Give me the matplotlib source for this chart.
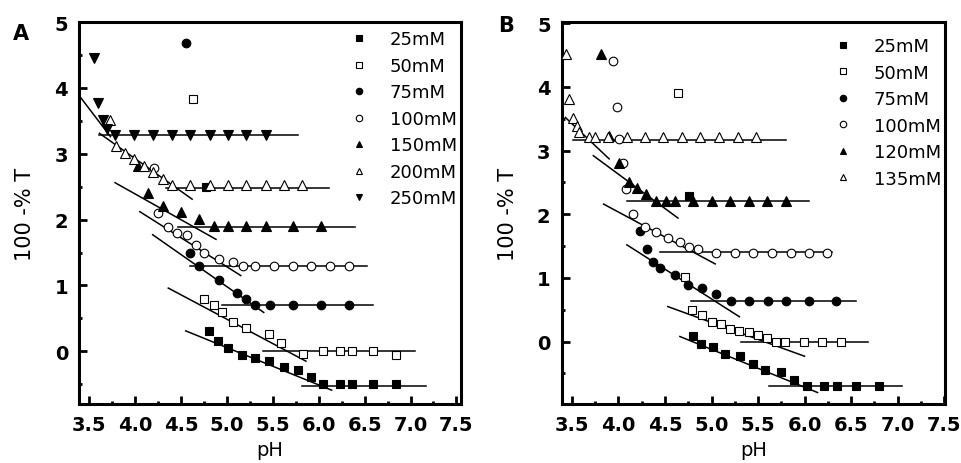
import matplotlib
matplotlib.use("Agg")
import matplotlib.pyplot as plt
from matplotlib.ticker import MultipleLocator

# ---- panel A data ----
a_labels = ["25mM", "50mM", "75mM", "100mM", "150mM", "200mM", "250mM"]

a25_x = [4.77, 4.80, 4.90, 5.01, 5.16, 5.31, 5.46, 5.62, 5.77, 5.91, 6.05, 6.23, 6.36, 6.59, 6.84]
a25_y = [2.50, 0.31, 0.16, 0.05, -0.05, -0.10, -0.14, -0.24, -0.29, -0.39, -0.50, -0.50, -0.50, -0.50, -0.50]
a50_x = [4.63, 4.75, 4.86, 4.95, 5.06, 5.21, 5.46, 5.59, 5.83, 6.05, 6.23, 6.36, 6.59, 6.84]
a50_y = [3.83, 0.80, 0.70, 0.60, 0.45, 0.35, 0.26, 0.13, -0.04, 0.00, 0.00, 0.00, 0.00, -0.06]
a75_x = [4.55, 4.60, 4.70, 4.91, 5.11, 5.21, 5.31, 5.47, 5.72, 6.02, 6.33]
a75_y = [4.68, 1.49, 1.29, 1.09, 0.89, 0.80, 0.71, 0.71, 0.71, 0.71, 0.71]
a100_x = [4.20, 4.25, 4.36, 4.46, 4.56, 4.66, 4.75, 4.91, 5.06, 5.17, 5.31, 5.51, 5.72, 5.91, 6.12, 6.33]
a100_y = [2.79, 2.10, 1.89, 1.79, 1.76, 1.61, 1.49, 1.40, 1.35, 1.30, 1.30, 1.30, 1.30, 1.30, 1.30, 1.30]
a150_x = [4.03, 4.14, 4.30, 4.50, 4.70, 4.86, 5.01, 5.21, 5.42, 5.72, 6.02]
a150_y = [2.81, 2.41, 2.21, 2.11, 2.01, 1.90, 1.90, 1.90, 1.90, 1.90, 1.90]
a200_x = [3.72, 3.79, 3.89, 3.99, 4.09, 4.19, 4.30, 4.40, 4.60, 4.81, 5.01, 5.21, 5.42, 5.62, 5.82]
a200_y = [3.51, 3.11, 3.01, 2.92, 2.82, 2.72, 2.62, 2.52, 2.52, 2.52, 2.52, 2.52, 2.52, 2.52, 2.52]
a250_x = [3.55, 3.59, 3.65, 3.69, 3.78, 3.99, 4.19, 4.40, 4.60, 4.81, 5.01, 5.21, 5.42]
a250_y = [4.46, 3.77, 3.51, 3.38, 3.28, 3.28, 3.28, 3.28, 3.28, 3.28, 3.28, 3.28, 3.28]

# fitted lines: (x0, x1, y0, y1) for sloped part, (x0, x1, y) for plateau
a_slope = [(4.55, 6.14, 0.31, -0.59), (4.36, 5.86, 0.96, -0.15), (4.19, 5.40, 1.77, 0.59),
           (4.05, 5.15, 2.12, 1.15), (3.78, 4.88, 2.56, 1.70), (3.61, 4.62, 3.31, 2.31),
           (3.39, 3.73, 3.88, 3.26)]
a_flat = [(5.82, 7.17, -0.53), (5.39, 7.05, 0.00), (4.95, 6.59, 0.71), (4.60, 6.53, 1.29),
          (4.47, 6.40, 1.89), (4.33, 6.11, 2.48), (3.61, 5.77, 3.29)]

# ---- panel B data ----
b_labels = ["25mM", "50mM", "75mM", "100mM", "120mM", "135mM"]

b25_x = [4.76, 4.80, 4.89, 5.02, 5.14, 5.31, 5.45, 5.58, 5.75, 5.89, 6.03, 6.21, 6.35, 6.55, 6.80]
b25_y = [2.28, 0.09, -0.03, -0.09, -0.20, -0.23, -0.35, -0.45, -0.47, -0.61, -0.70, -0.70, -0.70, -0.70, -0.70]
b50_x = [4.64, 4.71, 4.79, 4.90, 5.00, 5.10, 5.20, 5.30, 5.40, 5.50, 5.60, 5.69, 5.79, 5.99, 6.19, 6.39]
b50_y = [3.90, 1.01, 0.50, 0.41, 0.30, 0.27, 0.20, 0.16, 0.15, 0.11, 0.06, 0.00, 0.00, 0.00, 0.00, 0.00]
b75_x = [4.23, 4.31, 4.37, 4.45, 4.61, 4.75, 4.90, 5.05, 5.21, 5.40, 5.61, 5.80, 6.05, 6.34]
b75_y = [1.73, 1.46, 1.25, 1.15, 1.05, 0.89, 0.84, 0.75, 0.64, 0.64, 0.64, 0.64, 0.64, 0.64]
b100_x = [3.94, 3.98, 4.01, 4.05, 4.08, 4.16, 4.28, 4.40, 4.53, 4.66, 4.76, 4.86,
          5.05, 5.25, 5.45, 5.65, 5.85, 6.05, 6.24]
b100_y = [4.40, 3.69, 3.19, 2.80, 2.40, 2.00, 1.80, 1.72, 1.63, 1.56, 1.48, 1.45,
          1.39, 1.39, 1.39, 1.39, 1.39, 1.39, 1.39]
b120_x = [3.81, 3.90, 4.01, 4.11, 4.20, 4.30, 4.40, 4.51, 4.61, 4.80, 5.00, 5.20, 5.40, 5.60, 5.80]
b120_y = [4.52, 3.23, 2.81, 2.51, 2.42, 2.32, 2.21, 2.21, 2.21, 2.21, 2.21, 2.21, 2.21, 2.21, 2.21]
b135_x = [3.44, 3.47, 3.51, 3.55, 3.58, 3.68, 3.75, 3.89, 4.09, 4.29, 4.48, 4.68, 4.88, 5.08, 5.28, 5.48]
b135_y = [4.51, 3.81, 3.51, 3.39, 3.30, 3.22, 3.22, 3.22, 3.22, 3.22, 3.22, 3.22, 3.22, 3.22, 3.22, 3.22]

b_slope = [(4.66, 6.14, 0.08, -0.80), (4.53, 6.00, 0.55, -0.23), (4.09, 5.30, 1.52, 0.39),
           (3.84, 5.04, 2.16, 1.22), (3.73, 4.64, 2.92, 1.94), (3.43, 3.90, 3.52, 2.87)]
b_flat = [(5.62, 7.05, -0.69), (5.32, 6.68, 0.00), (4.78, 6.55, 0.64), (4.45, 6.30, 1.40),
          (4.09, 6.05, 2.21), (3.51, 5.80, 3.17)]

x_ticks = [3.5, 4.0, 4.5, 5.0, 5.5, 6.0, 6.5, 7.0, 7.5]
x_ticklabels = ["3.5", "4.0", "4.5", "5.0", "5.5", "6.0", "6.5", "7.0", "7.5"]
y_ticks = [0, 1, 2, 3, 4, 5]

styles = [("s", "black", 5.5), ("s", "white", 5.5), ("o", "black", 6.2), ("o", "white", 6.2),
          ("^", "black", 6.5), ("^", "white", 6.5), ("v", "black", 6.5)]

plt.rcParams["font.family"] = "DejaVu Sans"
fig = plt.figure(figsize=(9.61, 4.64), dpi=100)


def draw_panel(ax, series, labels, slopes, flats, xlim, ylim, legend_anchor):
    for (x0, x1, y0, y1) in slopes:
        ax.plot([x0, x1], [y0, y1], color="black", lw=1.1, zorder=2)
    for (x0, x1, y) in flats:
        ax.plot([x0, x1], [y, y], color="black", lw=1.1, zorder=2)
    handles = []
    for (xs, ys), lab, (m, fc, ms) in zip(series, labels, styles):
        h, = ax.plot(xs, ys, linestyle="none", marker=m, markersize=ms,
                     markerfacecolor=fc, markeredgecolor="black", markeredgewidth=0.8,
                     label=lab, zorder=3)
        handles.append(h)
    ax.set_xlim(*xlim)
    ax.set_ylim(*ylim)
    ax.xaxis.set_minor_locator(MultipleLocator(0.25))
    ax.yaxis.set_minor_locator(MultipleLocator(0.5))
    ax.set_xticks(x_ticks)
    ax.set_xticklabels(x_ticklabels)
    ax.set_yticks(y_ticks)
    ax.tick_params(which="both", direction="in", top=False, right=False)
    ax.tick_params(which="major", length=6, width=2, labelsize=14, pad=8)
    ax.tick_params(which="minor", length=2.5, width=2)
    for t in ax.get_xticklabels() + ax.get_yticklabels():
        t.set_fontweight("bold")
    for s in ax.spines.values():
        s.set_linewidth(2.2)
    ax.set_xlabel("pH", fontsize=14, labelpad=4)
    ax.set_ylabel("100 -% T", fontsize=15, labelpad=14)
    ax.legend(handles=handles, loc="upper right", bbox_to_anchor=legend_anchor,
              frameon=False, fontsize=13, markerscale=0.75, handlelength=1.6,
              handletextpad=0.9, labelspacing=0.47, borderaxespad=0, borderpad=0)


axA = fig.add_axes([0.0825, 0.1272, 0.3972, 0.8232])
draw_panel(axA,
           [(a25_x, a25_y), (a50_x, a50_y), (a75_x, a75_y), (a100_x, a100_y),
            (a150_x, a150_y), (a200_x, a200_y), (a250_x, a250_y)],
           a_labels, a_slope, a_flat, (3.39, 7.55), (-0.8, 5.0), (0.99, 0.978))

axB = fig.add_axes([0.5845, 0.1272, 0.3989, 0.8232])
draw_panel(axB,
           [(b25_x, b25_y), (b50_x, b50_y), (b75_x, b75_y), (b100_x, b100_y),
            (b120_x, b120_y), (b135_x, b135_y)],
           b_labels, b_slope, b_flat, (3.39, 7.51), (-0.98, 5.02), (0.99, 0.96))

fig.text(0.022, 0.927, "A", fontsize=15, fontweight="bold", ha="center", va="center")
fig.text(0.527, 0.944, "B", fontsize=15, fontweight="bold", ha="center", va="center")

fig.savefig("out.png", dpi=100)
